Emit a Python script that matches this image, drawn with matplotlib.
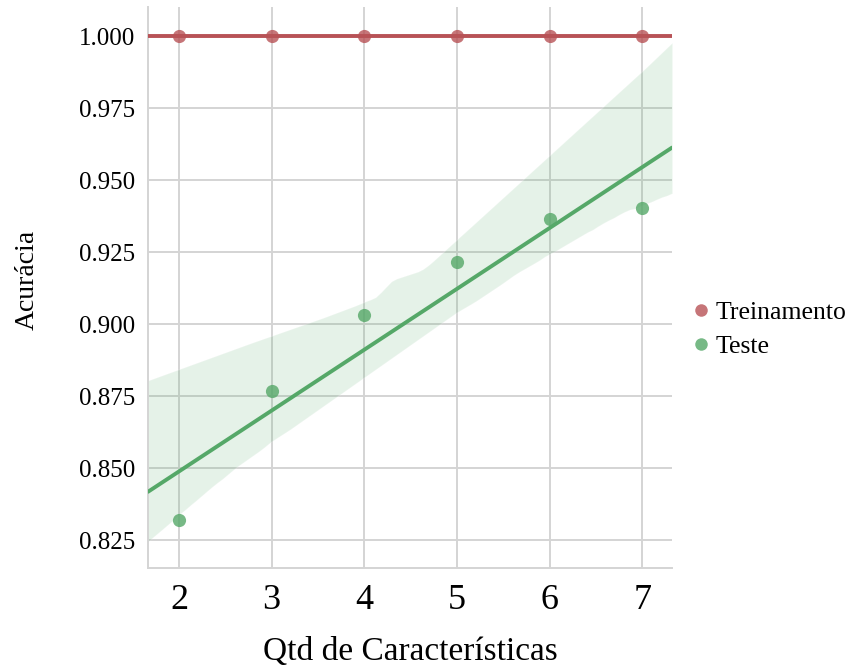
import matplotlib
matplotlib.use("Agg")
import matplotlib.pyplot as plt
import seaborn as sns
import numpy as np
from matplotlib.lines import Line2D

sns.set_style("whitegrid")
plt.rcParams["font.family"] = ["Liberation Serif", "DejaVu Serif"]
plt.rcParams["text.color"] = "black"
plt.rcParams["axes.labelcolor"] = "black"
plt.rcParams["xtick.color"] = "black"
plt.rcParams["ytick.color"] = "black"

# Accuracy by number of features
n_features = [2, 3, 4, 5, 6, 7]
acc_train = [1.000, 1.000, 1.000, 1.000, 1.000, 1.000]
acc_test = [0.8319, 0.8767, 0.9031, 0.9215, 0.9365, 0.9403]
series_names = ["Treinamento", "Teste"]
series_colors = ["#B85256", "#55A868"]
y_ticks = [0.825, 0.850, 0.875, 0.900, 0.925, 0.950, 0.975, 1.000]

fig = plt.figure(figsize=(8.51, 6.71), dpi=100)
ax = fig.add_axes([0.1739, 0.1535, 0.6158, 0.8361])
ax.set_xlim(1.666, 7.32)
ax.set_ylim(0.8153, 1.0101)

for yvals, color in zip([acc_train, acc_test], series_colors):
    sns.regplot(x=np.array(n_features, dtype=float), y=np.array(yvals),
                ax=ax, color=color, truncate=False, ci=95, seed=7,
                scatter_kws={"s": 90, "alpha": 0.8, "linewidths": 0, "zorder": 3},
                line_kws={"lw": 2.8, "zorder": 4})

ax.set_xlim(1.666, 7.32)
ax.set_ylim(0.8153, 1.0101)
ax.set_xticks(n_features)
ax.set_yticks(y_ticks)
ax.set_yticklabels([f"{v:.3f}" for v in y_ticks], fontsize=18)
ax.set_xticklabels([str(v) for v in n_features], fontsize=26)
ax.tick_params(axis="x", pad=8)
ax.tick_params(axis="y", pad=6)

ax.grid(True, color="#d4d4d4", lw=1.4)
for side in ["top", "right"]:
    ax.spines[side].set_visible(False)
for side in ["left", "bottom"]:
    ax.spines[side].set_color("#d4d4d4")
    ax.spines[side].set_linewidth(1.4)

ax.set_xlabel("Qtd de Características", fontsize=24, labelpad=14)
ax.set_ylabel("Acurácia", fontsize=20)
ax.yaxis.set_label_coords(-0.207, 0.513)

handles = [Line2D([], [], marker="o", ls="none", color=c, alpha=0.8,
                  markersize=9, markeredgewidth=0) for c in series_colors]
fig.legend(handles, series_names, loc="center left", bbox_to_anchor=(0.809, 0.509),
           frameon=False, fontsize=18.5, handletextpad=0.05, labelspacing=0.42,
           handlelength=1.0, borderpad=0, borderaxespad=0)

fig.savefig("out.png", dpi=100)
